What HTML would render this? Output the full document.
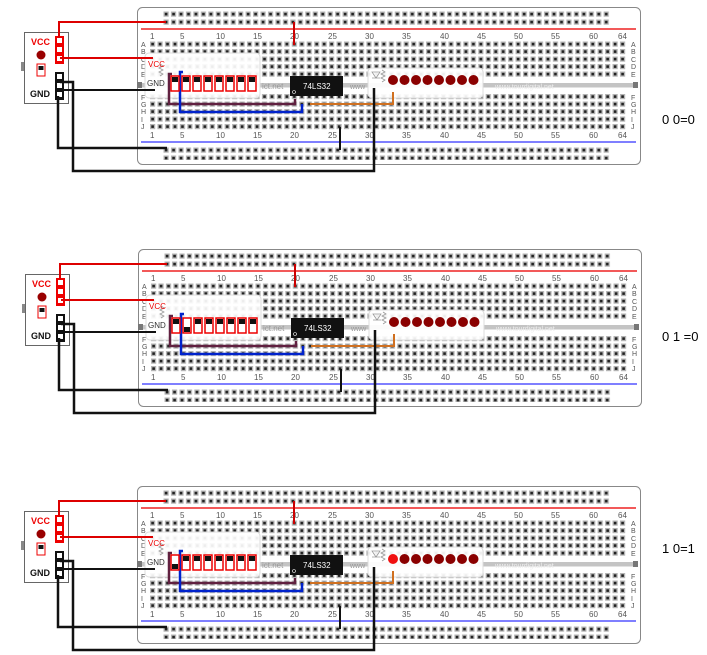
<!DOCTYPE html><html><head><style>body{margin:0;background:#fff}svg{display:block}text{font-family:"Liberation Sans",sans-serif}</style></head><body>
<svg width="707" height="655" viewBox="0 0 707 655" xmlns="http://www.w3.org/2000/svg">
<defs>
<pattern id="h" patternUnits="userSpaceOnUse" x="149.5" y="41" width="7.46" height="7.5"><rect x="0.5" y="0.5" width="5.2" height="5.2" fill="#b4b4b4"/><rect x="1.8" y="1.8" width="2.6" height="2.6" fill="#222"/></pattern>
<pattern id="r" patternUnits="userSpaceOnUse" x="163" y="11" width="7.46" height="8"><rect x="0.5" y="0.5" width="5.2" height="5.2" fill="#b4b4b4"/><rect x="1.8" y="1.8" width="2.6" height="2.6" fill="#222"/></pattern>
<g id="board">
<rect x="137.5" y="7.5" width="503" height="157" rx="5" fill="#fff" stroke="#888"/>
<rect x="163" y="11" width="447" height="15" fill="url(#r)"/>
<line x1="141" y1="29" x2="636" y2="29" stroke="#e22" stroke-width="1.5"/>
<rect x="149" y="41" width="478" height="37" fill="url(#h)"/>
<rect x="141" y="83" width="494" height="4.5" fill="#c4c4c4"/>
<rect x="137" y="82" width="5" height="6" fill="#777"/><rect x="633" y="82" width="5" height="6" fill="#777"/>
<rect x="149" y="94" width="478" height="37" fill="url(#h)"/>
<line x1="141" y1="142" x2="636" y2="142" stroke="#55f" stroke-width="1.5"/>
<rect x="163" y="145" width="447" height="15" fill="url(#r)"/>
<g font-size="8" fill="#555">
<text x="150" y="39">1</text><text x="180" y="39">5</text><text x="216" y="39">10</text><text x="253" y="39">15</text><text x="290" y="39">20</text><text x="328" y="39">25</text><text x="365" y="39">30</text><text x="402" y="39">35</text><text x="440" y="39">40</text><text x="477" y="39">45</text><text x="514" y="39">50</text><text x="551" y="39">55</text><text x="589" y="39">60</text><text x="618" y="39">64</text>
<text x="150" y="138">1</text><text x="180" y="138">5</text><text x="216" y="138">10</text><text x="253" y="138">15</text><text x="290" y="138">20</text><text x="328" y="138">25</text><text x="365" y="138">30</text><text x="402" y="138">35</text><text x="440" y="138">40</text><text x="477" y="138">45</text><text x="514" y="138">50</text><text x="551" y="138">55</text><text x="589" y="138">60</text><text x="618" y="138">64</text>
</g>
<g font-size="7" fill="#555">
<text x="141" y="47">A</text><text x="141" y="54">B</text><text x="141" y="62">C</text><text x="141" y="69">D</text><text x="141" y="77">E</text>
<text x="141" y="100">F</text><text x="141" y="107">G</text><text x="141" y="114">H</text><text x="141" y="122">I</text><text x="141" y="129">J</text>
<text x="631" y="47">A</text><text x="631" y="54">B</text><text x="631" y="62">C</text><text x="631" y="69">D</text><text x="631" y="77">E</text>
<text x="631" y="100">F</text><text x="631" y="107">G</text><text x="631" y="114">H</text><text x="631" y="122">I</text><text x="631" y="129">J</text>
</g>
<text x="262" y="89" font-size="8" fill="#999">ict.net</text>
<text x="350" y="89" font-size="7" fill="#999">www</text>
<text x="495" y="89" font-size="7" fill="#eee">www.tourdigital.net</text>
<rect x="145" y="53" width="115" height="45" rx="4" fill="#fff" fill-opacity="0.92" stroke="#ddd"/>
<path d="M160 64 l3 2 -4 2 4 2 -4 2 4 2 -3 2" fill="none" stroke="#999" stroke-width="0.8"/>
<rect x="290" y="76" width="53" height="20" fill="#111"/>
<circle cx="294" cy="92" r="1.5" fill="none" stroke="#fff" stroke-width="0.6"/>
<text x="303" y="89" font-size="8" fill="#fff">74LS32</text>
<rect x="368" y="68" width="115" height="30" rx="4" fill="#fff" fill-opacity="0.92" stroke="#ddd"/>
<path d="M372 72 h8 l-4 6z M372 78 h8" fill="none" stroke="#999" stroke-width="0.8"/>
<path d="M382 70 l3 2 -4 2 4 2 -4 2 4 2 -3 2" fill="none" stroke="#999" stroke-width="0.8"/>
<line x1="294" y1="22" x2="294" y2="45" stroke="#c00" stroke-width="2"/>
<line x1="340" y1="127" x2="340" y2="150" stroke="#111" stroke-width="2"/>
<path d="M172 74 H169 V104 H295 V99" fill="none" stroke="#602040" stroke-width="2.5"/>
<path d="M183 72 H180 V112 H302 V104" fill="none" stroke="#0022cc" stroke-width="2.5"/>
<path d="M310 104 H393 V92" fill="none" stroke="#d07020" stroke-width="2"/>
<rect x="21" y="62" width="4" height="9" fill="#888"/>
<rect x="24.5" y="32.5" width="44" height="71" fill="#fff" stroke="#666"/>
<text x="31" y="45" font-size="9" font-weight="bold" fill="#e00">VCC</text>
<circle cx="41" cy="55" r="4.5" fill="#900"/>
<rect x="37" y="64" width="8" height="12" fill="#fff" stroke="#e00"/><rect x="38.5" y="66" width="5" height="4" fill="#111"/>
<text x="30" y="97" font-size="9" font-weight="bold" fill="#111">GND</text>
<rect x="55" y="36" width="9" height="28" fill="#e00"/>
<rect x="57" y="38" width="5" height="5" fill="#fff"/><rect x="57" y="47" width="5" height="5" fill="#fff"/><rect x="57" y="56" width="5" height="5" fill="#fff"/>
<rect x="55" y="72" width="9" height="28" fill="#111"/>
<rect x="57" y="74" width="5" height="5" fill="#fff"/><rect x="57" y="83" width="5" height="5" fill="#fff"/><rect x="57" y="92" width="5" height="5" fill="#fff"/>
<path d="M59 38 V22 H166" fill="none" stroke="#d00" stroke-width="2"/>
<path d="M60 58 H153" fill="none" stroke="#d00" stroke-width="2"/>
<path d="M60 82 H73 V171 H374 V88" fill="none" stroke="#111" stroke-width="2.5"/>
<path d="M60 90 H155" fill="none" stroke="#111" stroke-width="2"/>
<path d="M58 96 V148 H167" fill="none" stroke="#111" stroke-width="2.5"/>
</g>
</defs>
<g id="p1">
<use href="#board"/>
<text x="148" y="67" font-size="8" fill="#e00">VCC</text><text x="147" y="86" font-size="8" fill="#333">GND</text>
<g fill="#fff" stroke="#e00" stroke-width="1.5">
<rect x="171" y="76" width="8" height="15"/><rect x="182" y="76" width="8" height="15"/><rect x="193" y="76" width="8" height="15"/><rect x="204" y="76" width="8" height="15"/><rect x="215" y="76" width="8" height="15"/><rect x="226" y="76" width="8" height="15"/><rect x="237" y="76" width="8" height="15"/><rect x="248" y="76" width="8" height="15"/></g>
<g fill="#111"><rect x="172" y="77" width="6" height="5"/><rect x="183" y="77" width="6" height="5"/><rect x="194" y="77" width="6" height="5"/><rect x="205" y="77" width="6" height="5"/><rect x="216" y="77" width="6" height="5"/><rect x="227" y="77" width="6" height="5"/><rect x="238" y="77" width="6" height="5"/><rect x="249" y="77" width="6" height="5"/></g>
<g fill="#8a0000"><circle cx="393" cy="80" r="5"/><circle cx="404.5" cy="80" r="5"/><circle cx="416" cy="80" r="5"/><circle cx="427.5" cy="80" r="5"/><circle cx="439" cy="80" r="5"/><circle cx="450.5" cy="80" r="5"/><circle cx="462" cy="80" r="5"/><circle cx="473.5" cy="80" r="5"/></g>
</g>
<g transform="translate(1,242)">
<use href="#board"/>
<text x="148" y="67" font-size="8" fill="#e00">VCC</text><text x="147" y="86" font-size="8" fill="#333">GND</text>
<g fill="#fff" stroke="#e00" stroke-width="1.5">
<rect x="171" y="76" width="8" height="15"/><rect x="182" y="76" width="8" height="15"/><rect x="193" y="76" width="8" height="15"/><rect x="204" y="76" width="8" height="15"/><rect x="215" y="76" width="8" height="15"/><rect x="226" y="76" width="8" height="15"/><rect x="237" y="76" width="8" height="15"/><rect x="248" y="76" width="8" height="15"/></g>
<g fill="#111"><rect x="172" y="77" width="6" height="5"/><rect x="183" y="85" width="6" height="5"/><rect x="194" y="77" width="6" height="5"/><rect x="205" y="77" width="6" height="5"/><rect x="216" y="77" width="6" height="5"/><rect x="227" y="77" width="6" height="5"/><rect x="238" y="77" width="6" height="5"/><rect x="249" y="77" width="6" height="5"/></g>
<g fill="#8a0000"><circle cx="393" cy="80" r="5"/><circle cx="404.5" cy="80" r="5"/><circle cx="416" cy="80" r="5"/><circle cx="427.5" cy="80" r="5"/><circle cx="439" cy="80" r="5"/><circle cx="450.5" cy="80" r="5"/><circle cx="462" cy="80" r="5"/><circle cx="473.5" cy="80" r="5"/></g>
</g>
<g transform="translate(0,479)">
<use href="#board"/>
<text x="148" y="67" font-size="8" fill="#e00">VCC</text><text x="147" y="86" font-size="8" fill="#333">GND</text>
<g fill="#fff" stroke="#e00" stroke-width="1.5">
<rect x="171" y="76" width="8" height="15"/><rect x="182" y="76" width="8" height="15"/><rect x="193" y="76" width="8" height="15"/><rect x="204" y="76" width="8" height="15"/><rect x="215" y="76" width="8" height="15"/><rect x="226" y="76" width="8" height="15"/><rect x="237" y="76" width="8" height="15"/><rect x="248" y="76" width="8" height="15"/></g>
<g fill="#111"><rect x="172" y="85" width="6" height="5"/><rect x="183" y="77" width="6" height="5"/><rect x="194" y="77" width="6" height="5"/><rect x="205" y="77" width="6" height="5"/><rect x="216" y="77" width="6" height="5"/><rect x="227" y="77" width="6" height="5"/><rect x="238" y="77" width="6" height="5"/><rect x="249" y="77" width="6" height="5"/></g>
<g fill="#8a0000"><circle cx="393" cy="80" r="5" fill="#f01010"/><circle cx="404.5" cy="80" r="5"/><circle cx="416" cy="80" r="5"/><circle cx="427.5" cy="80" r="5"/><circle cx="439" cy="80" r="5"/><circle cx="450.5" cy="80" r="5"/><circle cx="462" cy="80" r="5"/><circle cx="473.5" cy="80" r="5"/></g>
</g>
<text x="662" y="124" font-size="13" fill="#000">0 0=0</text>
<text x="662" y="341" font-size="13" fill="#000">0 1 =0</text>
<text x="662" y="553" font-size="13" fill="#000">1 0=1</text>
</svg>
</body></html>
